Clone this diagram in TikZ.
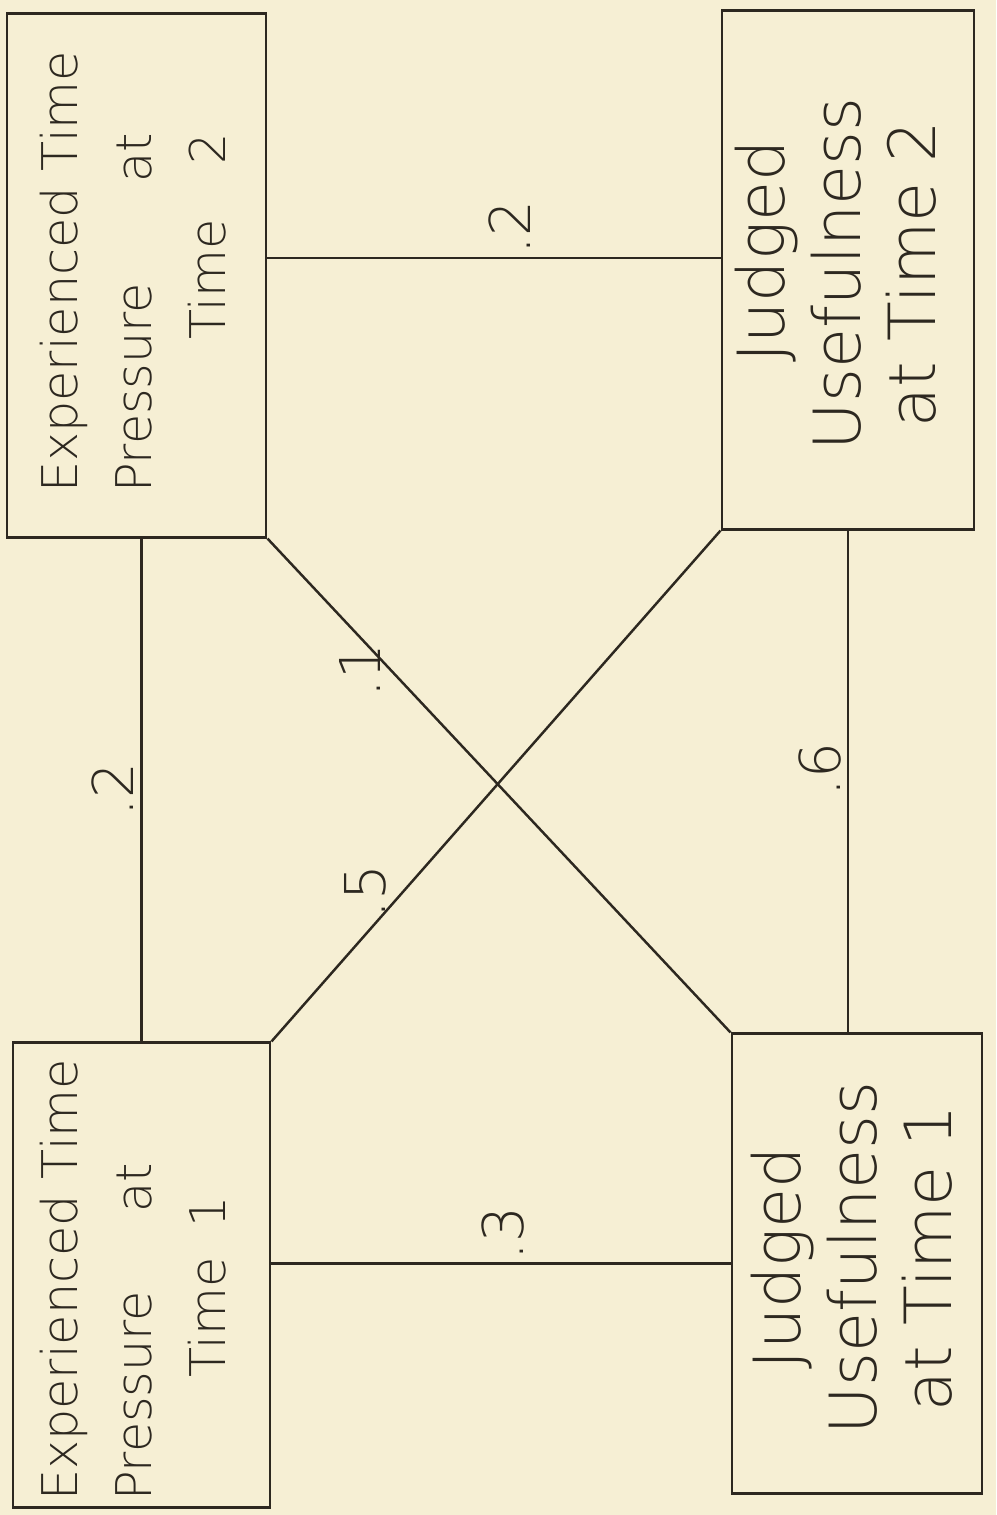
\documentclass[tikz,border=0pt]{standalone}
\usepackage{fontspec}
\newfontfamily\handfont{DejaVuSans-ExtraLight.ttf}
\usetikzlibrary{calc}
\definecolor{paper}{RGB}{246,239,212}
\definecolor{ink}{RGB}{45,40,32}
\tikzset{
  varbox/.style={draw=ink,line width=0.8pt,rectangle,inner sep=0pt},
  boxtext/.style={rotate=90,text=ink,font=\handfont\fontsize{14}{21}\selectfont,align=left,inner sep=0pt},
  usetext/.style={boxtext,font=\handfont\fontsize{18.5}{21.5}\selectfont,align=center},
  corr/.style={rotate=90,text=ink,font=\handfont\fontsize{16}{20}\selectfont,inner sep=0pt},
  link/.style={draw=ink,line width=0.7pt}
}
\begin{document}
\begin{tikzpicture}[x=0.01cm,y=-0.01cm]
\fill[paper] (0,0) rectangle (996,1515);
\useasboundingbox (0,0) rectangle (996,1515);
% the four measures
\node[varbox,minimum width=2.59cm,minimum height=5.23cm] (ep2) at (136.5,275.5) {};
\node[varbox,minimum width=2.52cm,minimum height=5.18cm] (ju2) at (848,270) {};
\node[varbox,minimum width=2.57cm,minimum height=4.64cm] (ep1) at (141.5,1275) {};
\node[varbox,minimum width=2.50cm,minimum height=4.59cm] (ju1) at (857,1263.5) {};
\node[boxtext] (ep2t) at (133,272) {Experienced Time\\\makebox[3.6cm][l]{Pressure\hfill at}\\\makebox[3.6cm][r]{Time\hspace{0.55cm}2}};
\node[usetext] (ju2t) at (836,274) {\makebox[3.6cm][c]{\hspace*{0.45cm}Judged}\\Usefulness\\at\hspace{0.2cm}Time\hspace{0.2cm}2};
\node[boxtext] (ep1t) at (133,1280) {Experienced Time\\\makebox[3.38cm][l]{Pressure\hfill at}\\\makebox[3.38cm][r]{Time\hspace{0.3cm}1\hspace*{0.33cm}}};
\node[usetext] (ju1t) at (852,1258) {Judged\\Usefulness\\at\hspace{0.2cm}Time\hspace{0.2cm}1};
% correlations
\coordinate (toprow) at (0,258);
\draw[link] (ep2.east |- toprow) -- (ju2.west |- toprow);
\draw[link] (ep1.east |- ju1.west) -- (ju1.west);
\draw[link] (ep2.south -| ep1.north) -- (ep1.north);
\draw[link] (ju2.south) -- (ju2.south |- ju1.north);
\draw[link] (ep2.south east) -- (ju1.north west);
\draw[link] (ju2.south west) -- (ep1.north east);
\node[corr] (syn2) at (510,228) {.2};
\node[corr] (syn1) at (503,1234) {.3};
\node[corr] (lagtp) at (113,790) {.2};
\node[corr] (lagju) at (820,770) {.6};
\node[corr] (crossa) at (360,671) {.1};
\node[corr] (crossb) at (365,892) {.5};
\end{tikzpicture}
\end{document}
